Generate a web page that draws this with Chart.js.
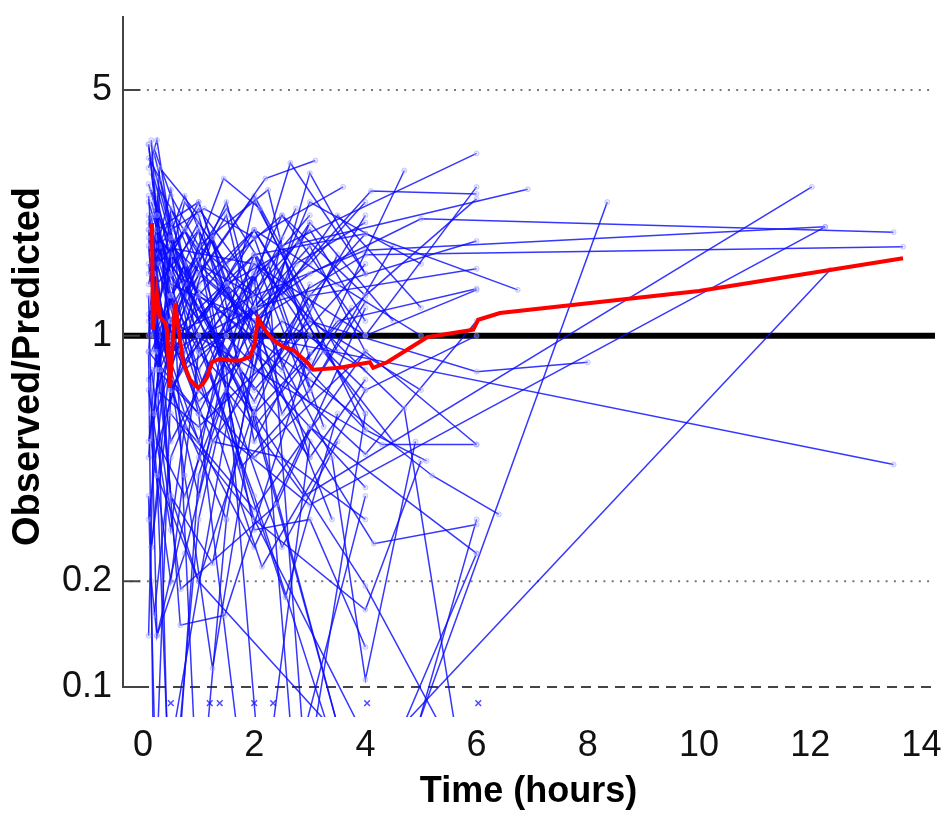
<!DOCTYPE html>
<html lang="en">
<head>
  <meta charset="UTF-8" />
  <title>Observed/Predicted vs Time</title>
  <script src="https://cdn.jsdelivr.net/npm/chart.js@4.4.0/dist/chart.umd.min.js"></script>
  <style>
    html, body { margin: 0; padding: 0; background: #fff; }
    #wrap { width: 949px; height: 814px; }
  </style>
</head>
<body>
  <div id="wrap"><canvas id="grafico"></canvas></div>

  <script>
    // axis ticks
    const xTickValues = [0, 2, 4, 6, 8, 10, 12, 14];
    const yTickValues = [0.1, 0.2, 1, 5];

    // one entry per subject: sampling times (h) and observed/predicted ratio
    const subjectTimes = [
      [0.1, 0.25, 0.5, 1, 2, 4, 6], [0.15, 0.3, 0.75, 1.5, 3, 6], [0.2, 0.5, 1, 2, 4, 6], [0.1, 0.3, 1, 2.2, 3.1],
      [0.15, 0.5, 1.45, 2.1, 4], [0.1, 0.25, 1, 2, 3], [0.2, 0.5, 1, 3, 4.7], [0.25, 1, 2.5, 6],
      [0.1, 0.2, 0.5, 2, 3.4], [0.1, 0.75, 1.25, 2, 3], [0.15, 0.5, 1.25, 2.5], [0.2, 0.67, 1.47, 3],
      [0.15, 0.68, 2.4, 4], [0.1, 0.5, 2.14, 4], [0.25, 1, 2.56, 3.5], [0.1, 0.3, 1, 1.75, 4],
      [0.15, 0.25, 0.5, 1, 2], [0.2, 0.5, 2, 3.4, 4, 4.9], [0.1, 0.5, 1, 2, 4, 5], [0.15, 0.75, 2, 4, 6],
      [0.25, 1, 2, 4.15, 6], [0.1, 0.5, 2, 4.3, 6], [0.2, 1, 3, 5.2, 6.4], [0.15, 0.5, 1.5, 4, 5.1],
      [0.1, 0.3, 2, 4.7, 5.9], [0.25, 0.75, 2, 3.9, 6], [0.15, 0.5, 2, 4.2, 6], [0.2, 0.5, 1, 2.3, 3],
      [0.1, 0.25, 1.5, 2, 3], [0.15, 0.5, 1, 2, 2.65, 4], [0.2, 0.5, 1.1, 2, 3.6], [0.25, 1, 2, 4.1, 6],
      [0.1, 0.5, 1, 3, 5, 13.5], [0.15, 0.5, 2, 4, 13.67], [0.5, 2, 4, 12.27], [0.1, 1, 3, 12.27],
      [0.2, 0.5, 1.5, 2.9, 12.03], [0.5, 2, 4.5, 8.35], [0.25, 1, 4, 12.36], [0.15, 0.75, 2, 13.5],
      [0.5, 1.5, 2.8, 6.92], [0.25, 1, 3, 6, 8.0], [0.1, 0.5, 2, 4, 6.74], [0.25, 0.75, 2, 6],
      [0.2, 1, 2.5, 4, 6], [0.1, 0.3, 1.25, 3, 6], [0.15, 0.5, 1, 2, 4, 6], [0.2, 0.5, 1.5, 3, 4],
      [0.1, 0.25, 0.5, 1, 1.5], [0.1, 0.25, 0.5, 1, 2], [0.2, 0.5, 1, 2, 3], [0.15, 0.75, 1.5, 2.25, 4],
      [0.25, 1, 2, 2.8, 4], [0.1, 0.2, 0.5, 1.5], [0.1, 0.5, 1, 2, 3, 4], [0.2, 0.75, 1.5, 2.5, 4],
      [0.15, 0.5, 1.25, 2, 3, 5], [0.25, 1, 2, 3, 4], [0.1, 0.3, 0.75, 2, 3.5], [0.2, 0.5, 1, 2, 4],
      [0.15, 0.5, 1.5, 2, 3], [0.1, 0.25, 1, 2.5, 4], [0.2, 0.75, 2, 3, 5], [0.25, 0.5, 1.5, 2.2, 4],
      [0.1, 0.5, 1, 1.5, 3], [0.15, 0.3, 1, 2, 3.5, 6], [0.2, 1, 1.75, 3, 4.5], [0.1, 0.5, 0.75, 2, 4],
      [0.25, 0.5, 1.25, 2.75, 4], [0.15, 1, 2, 3.25, 4.5], [0.2, 0.5, 1, 2.25, 3], [0.1, 0.3, 1.5, 2.5, 3.75],
      [0.3, 0.75, 2, 3, 4], [0.15, 0.5, 1.5, 2, 4, 6], [0.1, 0.25, 0.75, 1.75, 3], [0.2, 0.5, 1, 2, 3.5, 5],
      [0.25, 0.75, 1.5, 2.5, 3.5], [0.1, 0.2, 0.5, 1, 2], [0.15, 0.25, 0.75, 1.25, 2.5, 4], [0.2, 0.3, 1, 2, 3, 4],
      [0.1, 0.5, 1, 2, 3, 4], [0.2, 0.75, 1.5, 2.5, 3.5, 5], [0.15, 0.5, 1, 1.75, 3, 4], [0.25, 1, 2, 3, 4, 6],
      [0.1, 0.3, 0.75, 1.5, 2.5, 4], [0.2, 0.5, 1.25, 2, 3], [0.15, 0.75, 1.5, 2.25, 3.25], [0.1, 0.5, 1, 2, 2.75],
      [0.25, 0.5, 1.5, 3, 4.5], [0.2, 1, 2, 3, 4], [0.15, 0.5, 1, 2.5, 3.5], [0.1, 0.25, 1, 2, 3, 4]
    ];
    const subjectRatios = [
      [3.5, 2.2, 1.3, 0.9, 1.6, 1.0, 1.35], [3.6, 1.6, 2.0, 1.0, 0.55, 0.24], [2.8, 1.9, 0.7, 0.45, 0.9, 0.49], [2.5, 0.8, 1.5, 2.8, 3.15],
      [1.9, 1.1, 2.8, 2.3, 0.54], [1.3, 0.14, 0.45, 2.43, 1.2], [0.9, 2.3, 1.5, 0.8, 2.95], [0.8, 0.6, 1.8, 3.3],
      [0.14, 0.6, 1.8, 1.1, 0.3], [2.2, 0.4, 0.113, 0.6, 1.4], [1.2, 0.35, 0.225, 1.9], [1.5, 0.15, 0.16, 0.9],
      [0.8, 0.19, 0.33, 1.2], [0.5, 1.3, 0.22, 0.7], [2.0, 1.0, 0.18, 0.6], [1.0, 3.0, 2.2, 0.8, 0.04],
      [0.6, 0.4, 0.04, 0.3, 1.5], [1.5, 0.9, 1.2, 0.45, 0.105, 0.5], [2.0, 0.7, 1.0, 0.3, 0.166, 0.44], [3.2, 1.4, 0.6, 0.194, 0.05],
      [1.4, 2.0, 0.9, 0.256, 0.29], [0.3, 1.1, 0.8, 0.49, 0.49], [2.3, 1.3, 0.75, 0.40, 0.31], [0.25, 0.9, 1.4, 0.54, 0.44],
      [1.1, 1.8, 1.6, 0.62, 0.04], [0.7, 1.2, 0.35, 0.04, 0.24], [2.4, 1.5, 0.6, 0.03, 0.30], [3.4, 2.5, 1.8, 1.2, 0.04],
      [0.35, 0.04, 0.55, 0.9, 2.1], [2.6, 1.7, 2.3, 1.4, 3.1, 1.5], [1.7, 2.0, 2.3, 1.9, 2.65], [0.9, 1.6, 1.1, 2.58, 2.53],
      [1.4, 2.6, 0.9, 1.5, 2.15, 1.97], [2.0, 1.4, 1.1, 1.7, 1.79], [1.0, 1.3, 1.75, 2.04], [0.9, 0.6, 0.33, 2.04],
      [2.5, 1.8, 0.7, 0.35, 2.65], [0.6, 0.3, 0.05, 2.40], [0.4, 0.2, 0.06, 1.54], [1.5, 2.0, 1.0, 0.43],
      [0.9, 1.4, 1.83, 2.61], [0.7, 0.55, 1.1, 0.79, 0.84], [3.5, 1.0, 1.7, 1.95, 1.35], [1.2, 0.8, 1.2, 1.86],
      [1.8, 0.7, 2.2, 1.0, 2.65], [2.1, 1.2, 0.5, 1.3, 1.55], [0.5, 0.2, 0.9, 0.6, 1.3, 2.45], [0.16, 0.45, 1.1, 2.0, 1.1],
      [3.0, 3.6, 2.0, 0.04, 0.3], [1.8, 0.9, 0.03, 0.4, 1.2], [2.2, 1.2, 0.6, 0.03, 0.5], [0.9, 1.6, 0.8, 0.03, 0.35],
      [1.1, 0.5, 1.5, 0.04, 0.6], [0.9, 0.04, 0.7, 1.3], [2.4, 1.5, 2.1, 1.2, 1.8, 0.9], [1.1, 2.4, 1.6, 2.2, 1.3],
      [1.7, 0.8, 1.9, 1.0, 2.4, 1.6], [2.0, 2.4, 0.8, 2.9, 1.5], [3.2, 2.8, 1.3, 2.5, 0.9], [0.6, 1.7, 1.2, 0.7, 1.6],
      [1.3, 0.5, 1.0, 1.7, 0.65], [2.0, 1.3, 0.65, 1.1, 0.8], [0.45, 0.9, 2.0, 1.1, 0.7], [1.6, 1.2, 2.2, 0.75, 2.2],
      [1.15, 0.75, 0.35, 0.9, 0.45], [2.9, 1.9, 1.3, 0.55, 1.1, 1.36], [1.0, 2.0, 0.42, 0.7, 1.8], [0.7, 0.28, 0.55, 0.32, 0.9],
      [2.2, 1.4, 0.6, 1.6, 2.1], [0.55, 1.4, 2.0, 0.9, 0.5], [2.6, 1.0, 1.8, 2.6, 0.85], [1.6, 0.9, 2.4, 0.6, 1.2],
      [1.0, 0.6, 0.25, 0.55, 0.37], [0.25, 0.7, 0.3, 0.9, 0.46, 1.1], [0.9, 1.9, 0.85, 1.3, 2.2], [3.3, 2.1, 1.3, 2.0, 1.4, 1.0],
      [0.5, 0.35, 0.7, 0.25, 0.5], [1.9, 1.2, 0.35, 0.2, 0.62], [0.2, 0.14, 0.24, 0.5, 0.45, 0.3], [1.2, 2.6, 1.7, 0.28, 0.3, 0.13],
      [1.5, 2.2, 1.1, 1.9, 0.7, 1.25], [2.0, 1.5, 2.3, 1.3, 2.2, 1.2], [1.0, 1.7, 2.4, 1.1, 1.6, 2.4], [1.7, 1.1, 1.7, 1.0, 0.7, 1.0],
      [2.7, 2.1, 1.6, 0.8, 1.4, 0.6], [0.8, 1.3, 1.9, 0.5, 1.0], [1.4, 2.5, 1.3, 1.6, 0.55], [0.75, 1.0, 1.6, 1.3, 2.3],
      [2.5, 1.6, 0.9, 2.1, 1.1], [1.9, 1.2, 0.65, 1.3, 1.95], [2.2, 0.65, 1.35, 0.8, 1.7], [0.45, 1.0, 0.8, 1.5, 0.45, 0.75]
    ];

    // smoothed trend (red)
    const smoothTimes = [0.162, 0.18, 0.25, 0.306, 0.396, 0.43, 0.486, 0.576, 0.72, 0.845, 0.99, 1.08, 1.15, 1.24,
      1.385, 1.56, 1.745, 1.925, 2.01, 2.07, 2.19, 2.34, 2.52, 2.70, 2.95, 3.06, 3.54, 4.08, 4.14, 4.39,
      4.93, 5.11, 5.94, 6.03, 6.19, 6.42, 10.0, 13.67];
    const smoothRatios = [2.09, 1.04, 1.32, 1.13, 1.09, 1.04, 0.71, 1.24, 0.84, 0.75, 0.71, 0.73, 0.76, 0.84,
      0.86, 0.85, 0.85, 0.87, 0.95, 1.12, 1.04, 0.97, 0.93, 0.91, 0.84, 0.80, 0.81, 0.84, 0.81, 0.84,
      0.95, 0.99, 1.04, 1.11, 1.13, 1.16, 1.34, 1.66];

    // below-quantification marks
    const bqlTimes = [0.5, 1.2, 1.38, 2.0, 2.34, 4.03, 6.03];
    const bqlRatio = 0.09;

    const dottedLevels = [5, 0.2];
    const dashedLevel = 0.1;
    const unityLevel = 1;

    const xRange = [-0.378, 14.245];
    const yRange = [0.0822, 8.12];

    const pts = (ts, vs) => ts.map((t, i) => ({ x: t, y: vs[i] }));
    const hline = v => xRange.map(x => ({ x: x, y: v }));

    const datasets = [];
    datasets.push({
      data: pts(smoothTimes, smoothRatios), showLine: true, borderColor: '#ff0000',
      borderWidth: 4, pointRadius: 0, order: 0
    });
    subjectTimes.forEach((ts, k) => {
      datasets.push({
        data: pts(ts, subjectRatios[k]), showLine: true,
        borderColor: 'rgba(10,10,255,0.82)', borderWidth: 1.5,
        pointRadius: 2.5, pointBorderWidth: 1,
        pointBackgroundColor: 'rgba(190,190,255,0.35)', pointBorderColor: 'rgba(150,150,255,0.45)',
        order: 1
      });
    });
    datasets.push({
      data: bqlTimes.map(t => ({ x: t, y: bqlRatio })), showLine: false,
      pointStyle: 'crossRot', pointRadius: 4, pointBorderWidth: 1.5,
      pointBorderColor: 'rgba(30,30,255,0.8)', order: 1
    });
    datasets.push({
      data: hline(unityLevel), showLine: true, borderColor: '#000', borderWidth: 6, pointRadius: 0, order: 2
    });
    dottedLevels.forEach(v => datasets.push({
      data: hline(v), showLine: true, borderColor: '#777', borderWidth: 2, borderDash: [2, 6.3], pointRadius: 0, order: 3
    }));
    datasets.push({
      data: hline(dashedLevel), showLine: true, borderColor: '#444', borderWidth: 2, borderDash: [10, 7], pointRadius: 0, order: 3
    });

    // y axis line stops at 0.1, tick marks point inward
    const axisMarks = {
      id: 'axisMarks',
      afterDatasetsDraw(chart) {
        const { ctx, chartArea, scales } = chart;
        const y = scales.y;
        ctx.save();
        ctx.strokeStyle = '#444';
        ctx.lineWidth = 2;
        ctx.beginPath();
        ctx.moveTo(chartArea.left + 1, chartArea.top);
        ctx.lineTo(chartArea.left + 1, y.getPixelForValue(dashedLevel));
        yTickValues.forEach(v => {
          const py = y.getPixelForValue(v);
          ctx.moveTo(chartArea.left, py);
          ctx.lineTo(chartArea.left + 18, py);
        });
        ctx.stroke();
        ctx.restore();
      }
    };

    const tickFont = { family: 'Liberation Sans', size: 36 };

    new Chart(document.getElementById('grafico'), {
      type: 'scatter',
      data: { datasets },
      options: {
        animation: false,
        responsive: true,
        maintainAspectRatio: false,
        layout: { padding: { top: 16, right: 14, left: 0, bottom: 0 } },
        plugins: { legend: { display: false }, tooltip: { enabled: false } },
        scales: {
          x: {
            type: 'linear', min: xRange[0], max: xRange[1],
            grid: { display: false, drawTicks: false }, border: { display: false },
            ticks: { font: tickFont, color: '#111', padding: 7, maxRotation: 0 },
            afterBuildTicks: s => { s.ticks = xTickValues.map(v => ({ value: v })); },
            afterFit: s => { s.height = 97; s.paddingLeft = 0; s.paddingRight = 0; },
            title: { display: true, text: 'Time (hours)', color: '#000', padding: 0,
              font: { family: 'Liberation Sans', size: 36, weight: 'bold' } }
          },
          y: {
            type: 'logarithmic', min: yRange[0], max: yRange[1],
            grid: { display: false, drawTicks: false }, border: { display: false },
            ticks: { font: tickFont, color: '#111', padding: 10, callback: v => String(v) },
            afterBuildTicks: s => { s.ticks = yTickValues.map(v => ({ value: v })); },
            afterFit: s => { s.width = 122; s.paddingTop = 0; s.paddingBottom = 0; },
            title: { display: true, text: 'Observed/Predicted', color: '#000', padding: { top: 6, bottom: 0 },
              font: { family: 'Liberation Sans', size: 38, weight: 'bold' } }
          }
        }
      },
      plugins: [axisMarks]
    });
  </script>
</body>
</html>
